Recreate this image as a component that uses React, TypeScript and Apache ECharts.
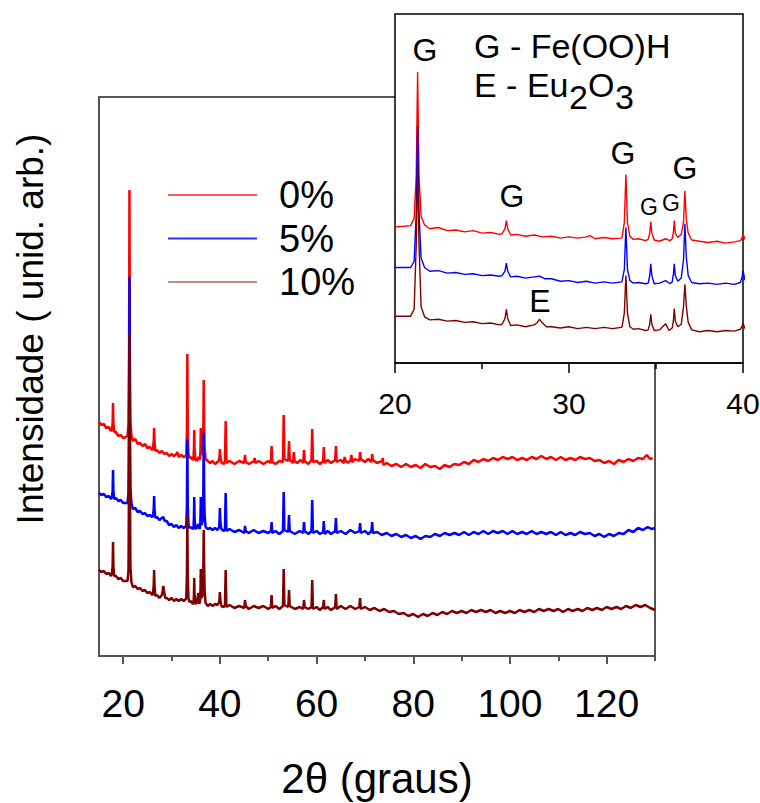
import React, { useEffect, useRef } from 'react';
import * as echarts from 'echarts';

const FONT = 'Arial, "Liberation Sans", Helvetica, sans-serif';

const seriesNames = ['0%', '5%', '10%'];
const seriesColors = ['#ff0000', '#0000ff', '#800000'];
const legendColors = ['#ff5a5a', '#3030ff', '#c48c8c'];

const xMajorTicks = [20, 40, 60, 80, 100, 120];
const xMinorTicks = [30, 50, 70, 90, 110, 130];
const insetTicks = [20, 30, 40];

// [2theta, intensity (arb.)]
const red0: number[][] = [
  [15, 234], [15.5, 231], [16, 232], [16.5, 228], [17, 229], [17.5, 225],
  [17.65, 226], [17.82, 233], [17.9, 253], [17.98, 233], [18.15, 224],
  [18.5, 224], [19, 220], [19.5, 221], [20, 218], [20.5, 219],
  [20.9, 220], [21.1, 232], [21.22, 300], [21.3, 466], [21.38, 300], [21.5, 235], [21.7, 221],
  [22, 215], [22.5, 217], [23, 212], [23.5, 213], [24, 210], [24.5, 212], [25, 208], [25.5, 209], [26, 206],
  [26.15, 207], [26.32, 215], [26.4, 228], [26.48, 215], [26.65, 205],
  [27, 206], [27.5, 203], [28, 205], [28.5, 202], [29, 203], [29.5, 200], [30, 202], [30.5, 200], [31, 202],
  [31.2, 204], [31.5, 199], [32, 201], [32.5, 199], [33, 200],
  [33.05, 201], [33.18, 225], [33.27, 302], [33.36, 225], [33.5, 203], [33.7, 198],
  [34, 199], [34.4, 196],
  [34.55, 198], [34.64, 208], [34.7, 226], [34.76, 208], [34.9, 197],
  [35.2, 195], [35.55, 199], [35.8, 196],
  [35.93, 199], [36, 210], [36.05, 228], [36.11, 208], [36.25, 201], [36.45, 206],
  [36.58, 225], [36.66, 276], [36.74, 230], [36.85, 208], [37.05, 197],
  [37.5, 195], [38, 193], [38.5, 195], [39, 192], [39.5, 194], [39.85, 196],
  [39.95, 201], [40, 207], [40.1, 199], [40.3, 194],
  [40.8, 192], [41.05, 194], [41.2, 235], [41.35, 193], [42, 195], [43, 192], [44, 195], [45.05, 193], [45.2, 201],
  [45.35, 194], [46, 192], [47.05, 195], [47.2, 198], [47.35, 193], [48, 195], [49, 192], [50, 195], [50.55, 193],
  [50.7, 210], [50.85, 194], [51.5, 192], [52.3, 195], [53.05, 194], [53.2, 241], [53.35, 197], [54.15, 195],
  [54.3, 215], [54.45, 196], [55.15, 193], [55.3, 204], [55.45, 195], [56, 193], [56.7, 196], [57.25, 193],
  [57.4, 206], [57.55, 195], [58.3, 192], [58.95, 196], [59.1, 227], [59.25, 194], [60, 195], [60.7, 192],
  [61.35, 195], [61.5, 209], [61.65, 193], [62.3, 196], [63, 193], [63.85, 196], [64, 210], [64.15, 194], [65, 196],
  [65.65, 193], [65.8, 199], [65.95, 196], [66.5, 193], [67.05, 196], [67.2, 201], [67.35, 194], [68, 197],
  [68.85, 195], [69, 204], [69.15, 197], [70, 194], [70.7, 197], [71.35, 194], [71.5, 202], [71.65, 196],
  [72.5, 193], [73.55, 195], [73.7, 198], [73.85, 191], [74.5, 193], [75.5, 190], [76.5, 192], [77.5, 189],
  [78.5, 192], [79.5, 189], [80.5, 191], [81.5, 188], [82.5, 192], [83.5, 189], [84.5, 190], [85.5, 187],
  [86.5, 191], [87.5, 189], [88.5, 192], [89.5, 191], [90.5, 194], [91.5, 192], [92.5, 196], [93.5, 194],
  [94.5, 197], [95.5, 195], [96.5, 198], [97.5, 196], [98.5, 199], [99.5, 197], [100.5, 199], [101.5, 196],
  [102.5, 198], [103.5, 196], [104.5, 199], [105.5, 197], [106.5, 200], [107.5, 197], [108.5, 199], [109.5, 196],
  [110.5, 199], [111.5, 196], [112.5, 198], [113.5, 196], [114.5, 199], [115.5, 197], [116.5, 198], [117.5, 195],
  [118.5, 196], [119.5, 193], [120.5, 195], [121.5, 192], [122.5, 196], [123.5, 194], [124.5, 197], [125.5, 195],
  [126.5, 198], [127.5, 197], [128.3, 201], [129, 197], [129.5, 198],
];

const blue5: number[][] = [
  [15, 163], [15.5, 161], [16, 162], [16.5, 159], [17, 160], [17.5, 157],
  [17.65, 159], [17.82, 165], [17.9, 186], [17.98, 165], [18.15, 157],
  [18.5, 158], [19, 155], [19.5, 156], [20, 153], [20.5, 153],
  [20.9, 153], [21.1, 163], [21.22, 240], [21.3, 379], [21.38, 240], [21.5, 168], [21.7, 153],
  [22, 147], [22.5, 148], [23, 144], [23.5, 145], [24, 142], [24.5, 143], [25, 140], [25.5, 141], [26, 139],
  [26.15, 140], [26.32, 147], [26.4, 160], [26.48, 147], [26.65, 138],
  [27, 139], [27.5, 136], [28, 138], [28.3, 139], [28.6, 135], [29, 135], [29.5, 131], [30, 132], [30.5, 129],
  [31, 131], [31.5, 128], [32, 130], [32.5, 128], [33, 130],
  [33.05, 131], [33.18, 150], [33.27, 217], [33.36, 150], [33.5, 132], [33.7, 128],
  [34, 129], [34.4, 127],
  [34.55, 128], [34.64, 140], [34.7, 159], [34.76, 140], [34.9, 127],
  [35.2, 128], [35.55, 132], [35.8, 127],
  [35.93, 130], [36, 142], [36.05, 159], [36.11, 140], [36.25, 131], [36.45, 136],
  [36.58, 165], [36.66, 223], [36.74, 170], [36.85, 140], [37.05, 129],
  [37.5, 127], [38, 128], [38.5, 126], [39, 128], [39.5, 126], [39.85, 129],
  [39.95, 138], [40, 148], [40.1, 134], [40.3, 127],
  [40.8, 125], [41.05, 127], [41.2, 163], [41.35, 125], [42, 127], [43, 124], [44, 126], [45.05, 123], [45.2, 130],
  [45.35, 125], [46, 123], [47, 126], [48, 123], [49, 125], [50, 123], [50.55, 125], [50.7, 134], [50.85, 123],
  [51.5, 125], [52.3, 122], [53.05, 125], [53.2, 164], [53.35, 126], [54.15, 124], [54.3, 141], [54.45, 125],
  [55.5, 122], [56.5, 125], [57.25, 123], [57.4, 134], [57.55, 125], [58.3, 122], [58.95, 125], [59.1, 156],
  [59.25, 123], [60, 125], [60.7, 122], [61.35, 124], [61.5, 135], [61.65, 122], [62.3, 125], [63, 122],
  [63.85, 125], [64, 138], [64.15, 123], [65, 125], [66, 122], [67, 126], [68, 123], [68.85, 125], [69, 133],
  [69.15, 123], [70, 125], [70.7, 122], [71.35, 125], [71.5, 134], [71.65, 123], [72.5, 124], [73.5, 121],
  [74.5, 123], [75.5, 120], [76.5, 122], [77.5, 119], [78.5, 121], [79.5, 118], [80.5, 120], [81.5, 117],
  [82.5, 120], [83.5, 119], [84.5, 122], [85.5, 120], [86.5, 123], [87.5, 121], [88.5, 123], [89.5, 121],
  [90.5, 124], [91.5, 121], [92.5, 124], [93.5, 122], [94.5, 125], [95.5, 122], [96.5, 125], [97.5, 123],
  [98.5, 125], [99.5, 122], [100.5, 125], [101.5, 122], [102.5, 124], [103.5, 122], [104.5, 125], [105.5, 122],
  [106.5, 124], [107.5, 122], [108.5, 124], [109.5, 121], [110.5, 124], [111.5, 121], [112.5, 123], [113.5, 121],
  [114.5, 124], [115.5, 122], [116.5, 123], [117.5, 120], [118.5, 122], [119.5, 119], [120.5, 122], [121.5, 120],
  [122.5, 123], [123.5, 122], [124.5, 126], [125.5, 124], [126.5, 128], [127.5, 126], [128.5, 129], [129.3, 127],
  [130, 128],
];

const brown10: number[][] = [
  [15, 86], [15.5, 84], [16, 85], [16.5, 82], [17, 83], [17.5, 80],
  [17.65, 82], [17.82, 90], [17.9, 114], [17.98, 90], [18.15, 80],
  [18.5, 80], [19, 77], [19.5, 78], [20, 75], [20.5, 75],
  [20.9, 75], [21.1, 86], [21.22, 190], [21.3, 322], [21.38, 190], [21.5, 90], [21.7, 74],
  [22, 69], [22.5, 70], [23, 67], [23.5, 68], [24, 65], [24.5, 66], [25, 63], [25.5, 64], [26, 61],
  [26.15, 62], [26.32, 71], [26.4, 86], [26.48, 71], [26.65, 60],
  [27, 61], [27.5, 58], [28, 61],
  [28.15, 64], [28.3, 70], [28.45, 65], [28.7, 58],
  [29, 58], [29.5, 56], [30, 58], [30.5, 55], [31, 57], [31.5, 55], [32, 57], [32.5, 55], [33, 57],
  [33.05, 58], [33.18, 80], [33.27, 140], [33.36, 80], [33.5, 58], [33.7, 54],
  [34, 55], [34.4, 52],
  [34.55, 53], [34.64, 62], [34.7, 78], [34.76, 62], [34.9, 52],
  [35.2, 53], [35.55, 63], [35.75, 52],
  [35.93, 56], [36, 68], [36.05, 87], [36.11, 67], [36.25, 58], [36.45, 62],
  [36.58, 90], [36.66, 126], [36.74, 92], [36.85, 65], [37.05, 53],
  [37.5, 50], [38, 52], [38.5, 50], [39, 52], [39.5, 51], [39.85, 54],
  [39.95, 59], [40, 64], [40.1, 56], [40.3, 50],
  [40.8, 49], [41.05, 51], [41.2, 86], [41.35, 49], [42, 51], [43, 48], [44, 50], [45.05, 48], [45.2, 56],
  [45.35, 50], [46, 47], [47, 50], [48, 48], [49, 50], [50, 47], [50.55, 49], [50.7, 61], [50.85, 48], [51.5, 50],
  [52.3, 47], [53.05, 50], [53.2, 87], [53.35, 51], [54.15, 49], [54.3, 66], [54.45, 50], [55.5, 47], [56.5, 49],
  [57.25, 47], [57.4, 56], [57.55, 49], [58.3, 47], [58.95, 49], [59.1, 76], [59.25, 47], [60, 49], [60.7, 46],
  [61.35, 49], [61.5, 56], [61.65, 47], [62.3, 49], [63, 46], [63.85, 49], [64, 62], [64.15, 47], [65, 50],
  [66, 47], [67, 50], [68, 47], [68.85, 49], [69, 58], [69.15, 47], [70, 49], [71, 46], [72, 48], [73, 45],
  [74, 47], [75, 44], [76, 45], [77, 42], [78, 43], [79, 40], [80, 42], [81, 39], [82, 42], [83, 40], [84, 43],
  [85, 41], [86, 44], [87, 42], [88, 45], [89, 43], [90, 45], [91, 43], [92, 46], [93, 44], [94, 46], [95, 44],
  [96, 46], [97, 43], [98, 45], [99, 43], [100, 45], [101, 43], [102, 46], [103, 44], [104, 46], [105, 44],
  [106, 47], [107, 45], [108, 47], [109, 45], [110, 47], [111, 44], [112, 47], [113, 45], [114, 47], [115, 45],
  [116, 48], [117, 46], [118, 48], [119, 46], [120, 49], [121, 47], [122, 49], [123, 47], [124, 50], [125, 48],
  [126, 51], [127, 49], [128, 51], [129, 48], [130, 46],
];

const seriesData = [red0, blue5, brown10];

export default function App() {
  const ref = useRef<HTMLDivElement>(null);

  useEffect(() => {
    if (!ref.current) return;
    const chart = echarts.init(ref.current, undefined, { renderer: 'svg' });

    const mainSeries = seriesData.map((d, i) => ({
      name: seriesNames[i],
      type: 'line',
      xAxisIndex: 0,
      yAxisIndex: 0,
      data: d,
      symbol: 'none',
      z: 2,
      lineStyle: { color: seriesColors[i], width: 2.5 },
      itemStyle: { color: seriesColors[i] },
    }));
    const insetSeries = seriesData.map((d, i) => ({
      name: seriesNames[i],
      type: 'line',
      xAxisIndex: 2,
      yAxisIndex: 1,
      data: d,
      symbol: 'none',
      z: 7,
      clip: true,
      lineStyle: { color: seriesColors[i], width: 1.4 },
      itemStyle: { color: seriesColors[i] },
    }));

    const txt = (text: string, x: number, y: number, size: number, align = 'center') => ({
      type: 'text',
      x,
      y,
      z: 20,
      style: { text, fontSize: size, fontFamily: FONT, fill: '#000', align, verticalAlign: 'middle' },
    });

    const option: any = {
      animation: false,
      backgroundColor: '#fff',
      textStyle: { fontFamily: FONT },
      grid: [
        {
          left: 99, top: 97, width: 556, height: 559,
          show: true, borderColor: '#555', borderWidth: 2, backgroundColor: 'transparent',
          outerBoundsMode: 'none', containLabel: false,
        },
        {
          left: 395, top: 14, width: 348, height: 349,
          show: true, borderColor: '#000', borderWidth: 1.5, backgroundColor: '#fff', z: 5,
          outerBoundsMode: 'none', containLabel: false,
        },
      ],
      xAxis: [
        {
          type: 'value', gridIndex: 0, min: 15, max: 130,
          name: '2θ (graus)', nameLocation: 'middle', nameGap: 101,
          nameTextStyle: { fontSize: 42, color: '#000', fontFamily: FONT },
          axisLine: { show: true, lineStyle: { color: '#555', width: 2 } },
          axisTick: { show: true, length: 8, customValues: xMajorTicks, lineStyle: { color: '#555', width: 2 } },
          axisLabel: { show: true, customValues: xMajorTicks, fontSize: 39, margin: 28, color: '#000', fontFamily: FONT },
          splitLine: { show: false },
        },
        {
          type: 'value', gridIndex: 0, min: 15, max: 130, position: 'bottom',
          axisLine: { show: false },
          axisTick: { show: true, length: 5, customValues: xMinorTicks, lineStyle: { color: '#555', width: 2 } },
          axisLabel: { show: false },
          splitLine: { show: false },
        },
        {
          type: 'value', gridIndex: 1, min: 20, max: 40, interval: 10, z: 6,
          axisLine: { show: true, lineStyle: { color: '#000', width: 1.5 } },
          axisTick: { show: true, length: 10, customValues: insetTicks, lineStyle: { color: '#000', width: 1.5 } },
          minorTick: { show: true, splitNumber: 2, length: 6, lineStyle: { color: '#000', width: 1.5 } },
          axisLabel: { show: true, fontSize: 30, margin: 25, color: '#000', fontFamily: FONT },
          splitLine: { show: false },
          minorSplitLine: { show: false },
        },
      ],
      yAxis: [
        { type: 'value', gridIndex: 0, min: 0, max: 559, show: false, splitLine: { show: false } },
        { type: 'value', gridIndex: 1, min: 0, max: 559, show: false, splitLine: { show: false } },
      ],
      legend: {
        show: true,
        orient: 'vertical',
        left: 168,
        top: 175,
        padding: 0,
        itemGap: 3.5,
        itemWidth: 89,
        itemHeight: 2,
        icon: 'rect',
        selectedMode: false,
        textStyle: { fontSize: 38, lineHeight: 40, color: '#000', fontFamily: FONT, padding: [0, 0, 0, 17] },
        data: seriesNames.map((n, i) => ({ name: n, itemStyle: { color: legendColors[i] } })),
      },
      graphic: [
        {
          type: 'text', x: 30, y: 329, rotation: Math.PI / 2, z: 20,
          style: {
            text: 'Intensidade ( unid. arb.)', fontSize: 37, fontFamily: FONT, fill: '#000',
            align: 'center', verticalAlign: 'middle',
          },
        },
        txt('G - Fe(OO)H', 474, 46, 34, 'left'),
        txt('E - Eu', 474, 85, 34, 'left'),
        txt('2', 569, 97, 34, 'left'),
        txt('O', 588, 85, 34, 'left'),
        txt('3', 615, 97, 34, 'left'),
        txt('G', 425, 50, 32),
        txt('G', 512, 196, 32),
        txt('G', 623, 153, 32),
        txt('G', 649, 207, 23),
        txt('G', 671, 203, 23),
        txt('G', 685, 168, 32),
        txt('E', 540, 301, 32),
      ],
      series: [...mainSeries, ...insetSeries],
    };

    chart.setOption(option);
    return () => chart.dispose();
  }, []);

  return (
    <div
      ref={ref}
      style={{ position: 'absolute', left: 0, top: 0, width: 760, height: 803, background: '#fff' }}
    />
  );
}
